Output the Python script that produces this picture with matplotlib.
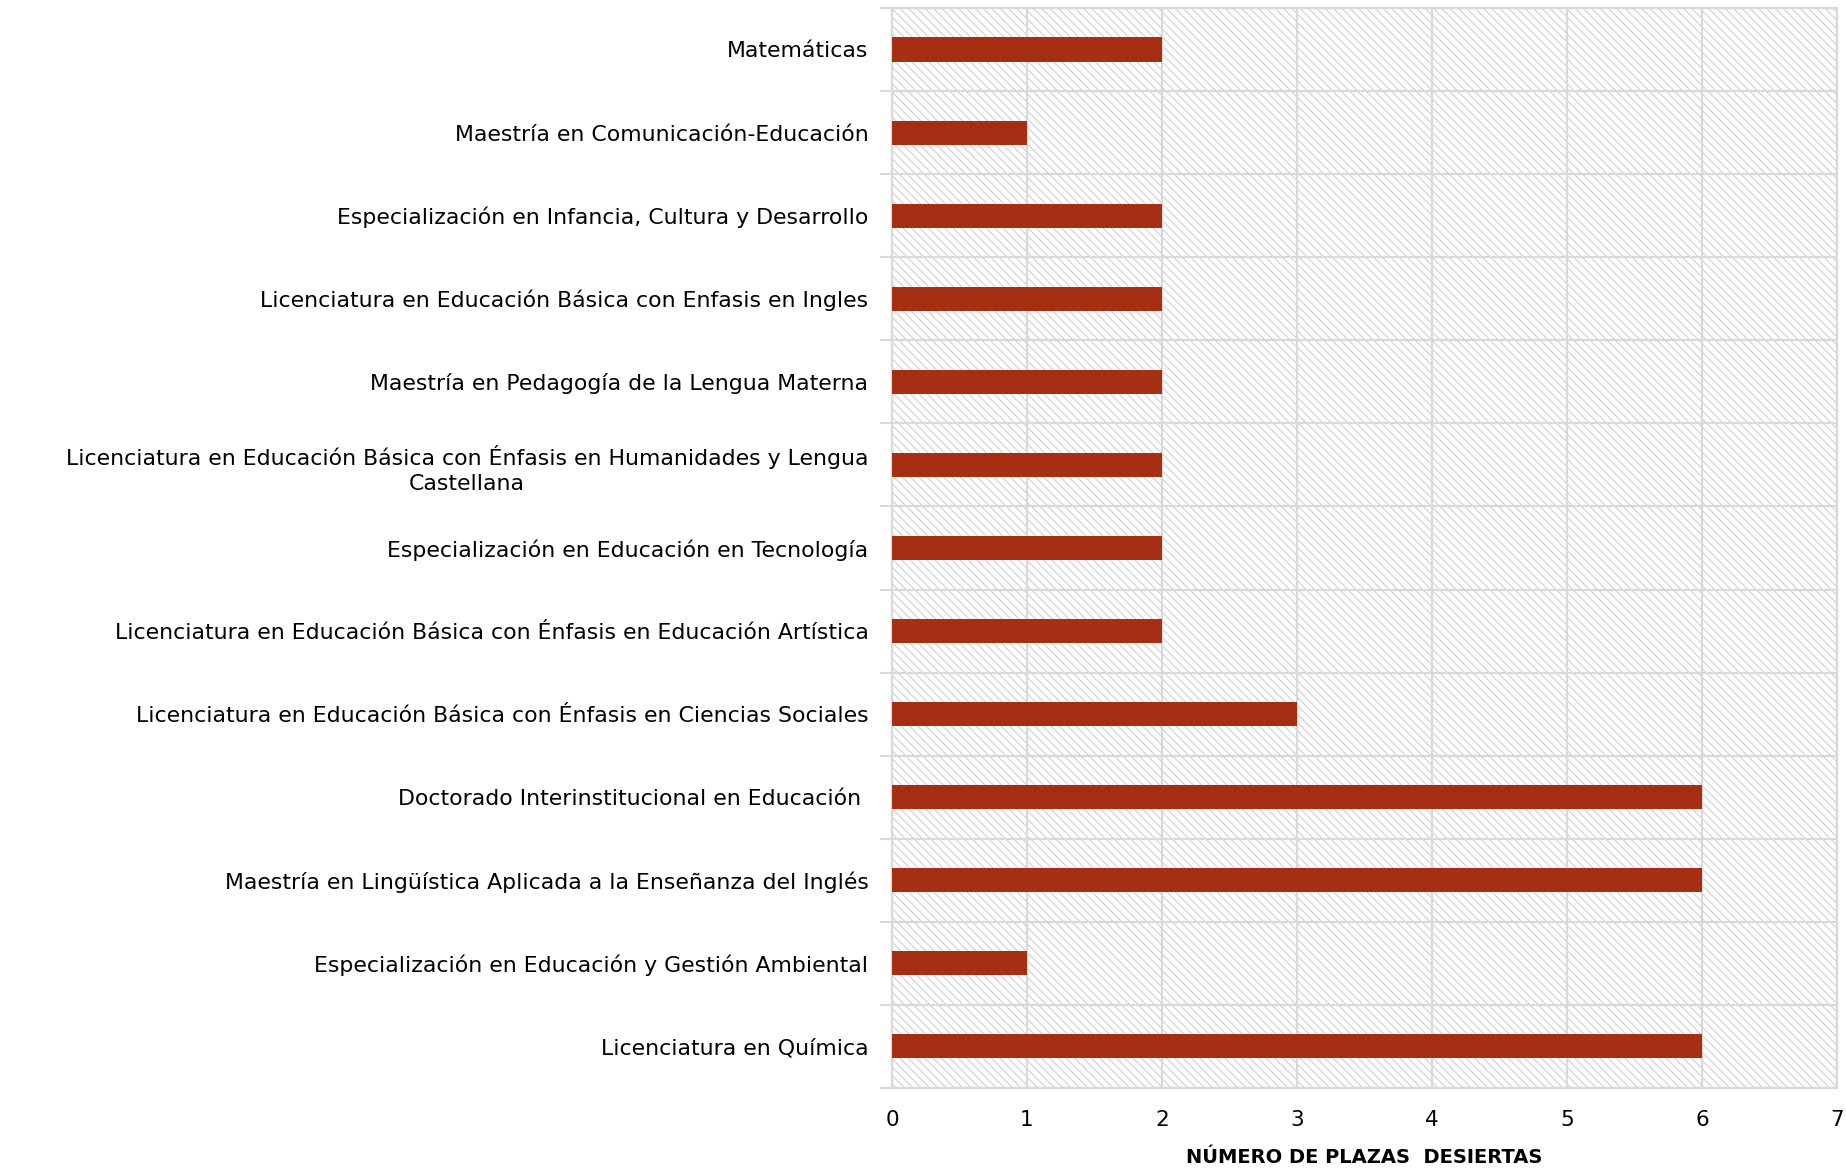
import matplotlib.pyplot as plt
import numpy as np
from matplotlib.patches import Rectangle

plt.rcParams['font.family'] = ['DejaVu Sans']
plt.rcParams['hatch.linewidth'] = 0.8

# programs, listed from top to bottom as in the chart
programas = [
    'Matemáticas',
    'Maestría en Comunicación-Educación',
    'Especialización en Infancia, Cultura y Desarrollo',
    'Licenciatura en Educación Básica con Enfasis en Ingles',
    'Maestría en Pedagogía de la Lengua Materna',
    'Licenciatura en Educación Básica con Énfasis en Humanidades y Lengua\nCastellana',
    'Especialización en Educación en Tecnología',
    'Licenciatura en Educación Básica con Énfasis en Educación Artística',
    'Licenciatura en Educación Básica con Énfasis en Ciencias Sociales',
    'Doctorado Interinstitucional en Educación ',
    'Maestría en Lingüística Aplicada a la Enseñanza del Inglés',
    'Especialización en Educación y Gestión Ambiental',
    'Licenciatura en Química',
]
plazas = [2, 1, 2, 2, 2, 2, 2, 2, 3, 6, 6, 1, 6]
x_ticks = [0, 1, 2, 3, 4, 5, 6, 7]

grid_c = '#d9d9d9'
bar_c = '#a62e12'

fig = plt.figure(figsize=(18.46, 11.70), dpi=100)
ax = fig.add_axes([0.4832, 0.0701, 0.9951 - 0.4832, 0.9932 - 0.0701])

n = len(programas)
y = np.arange(n)[::-1]

# hatched background
ax.add_patch(Rectangle((0, 0), 1, 1, transform=ax.transAxes, facecolor='white',
                       edgecolor='#cfcfcf', hatch='\\\\\\\\', lw=0, zorder=0))

ax.barh(y, plazas, height=0.29, color=bar_c, zorder=3)

ax.set_xlim(0, 7)
ax.set_ylim(-0.5, n - 0.5)
ax.set_xticks(x_ticks)
ax.set_xticklabels([str(t) for t in x_ticks], fontsize=15.5)
ax.set_yticks(y)
ax.set_yticklabels(programas, fontsize=15.8, multialignment='center',
                   linespacing=1.35)
ax.set_yticks(np.arange(n + 1) - 0.5, minor=True)

ax.tick_params(axis='y', which='major', length=0, pad=17)
ax.tick_params(axis='y', which='minor', length=9, color=grid_c, width=1.5)
ax.tick_params(axis='x', which='major', length=0, pad=16)

ax.grid(axis='x', which='major', color=grid_c, lw=1.6, zorder=1)
ax.grid(axis='y', which='minor', color=grid_c, lw=1.6, zorder=1)
ax.grid(axis='y', which='major', visible=False)
for s in ax.spines.values():
    s.set_color(grid_c)
    s.set_linewidth(1.6)

ax.set_xlabel('NÚMERO DE PLAZAS  DESIERTAS', fontsize=14, fontweight='bold', labelpad=13)
fig.text(-0.0035, 0.573, 'PROYECTOS CURRICULARES', rotation=90, fontsize=14,
         fontweight='bold', ha='center', va='center')

fig.savefig('out.png', dpi=100)
